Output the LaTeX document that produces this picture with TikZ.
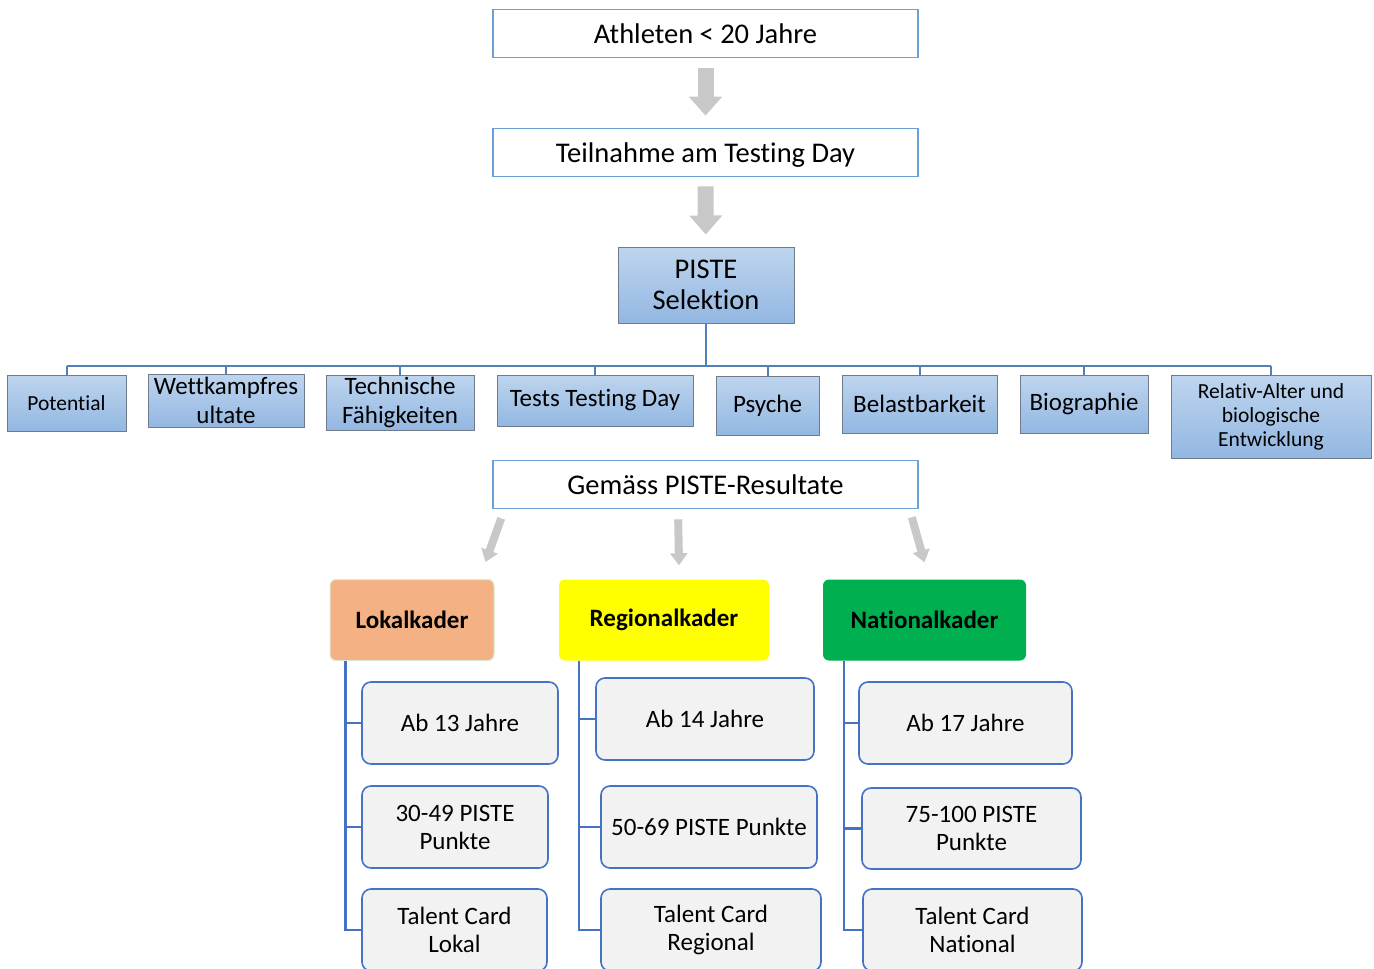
\documentclass[tikz,border=0pt]{standalone}
\usepackage{fontspec}
\setmainfont{Carlito}[Ligatures=NoCommon]
\usepackage{xcolor}
\usetikzlibrary{positioning, arrows.meta, calc}
\definecolor{pisteEdge}{HTML}{6A9FD8}
\definecolor{pisteLine}{HTML}{4F81BD}
\definecolor{pisteTop}{HTML}{BED5EE}
\definecolor{pisteBottom}{HTML}{93B7E2}
\definecolor{pisteFrame}{HTML}{6F7B8B}
\definecolor{kaderLine}{HTML}{4472C4}
\definecolor{kaderCard}{HTML}{F2F2F2}
\definecolor{lokalFill}{HTML}{F4B183}
\definecolor{lokalEdge}{HTML}{DCEBD3}
\definecolor{regioFill}{HTML}{FFFF00}
\definecolor{natioFill}{HTML}{00B050}
\definecolor{arrowGray}{HTML}{C8C8C8}

\begin{document}
\begin{tikzpicture}[
  x=1pt, y=-1pt,
  every node/.style={inner sep=0pt, align=center},
  stagebox/.style={
    rectangle, draw=pisteEdge, line width=1.6pt, fill=white,
    minimum width=425pt, minimum height=48pt,
    font=\fontsize{28.5}{33}\selectfont
  },
  criterion/.style={
    rectangle, draw=pisteFrame, line width=1pt,
    top color=pisteTop, bottom color=pisteBottom,
    font=\fontsize{25}{28.5}\selectfont
  },
  kader/.style={
    rectangle, rounded corners=6pt, fill=#1,
    minimum height=81pt, font=\fontsize{25}{28}\selectfont\bfseries
  },
  card/.style={
    rectangle, rounded corners=9pt, draw=kaderLine, line width=1.6pt,
    fill=kaderCard, minimum height=82pt, font=\fontsize{25}{28}\selectfont
  },
  bus/.style={draw=pisteLine, line width=2pt},
  branch/.style={draw=kaderLine, line width=2.2pt},
  flowarrow/.style={draw=arrowGray, line width=16pt, -{Triangle[width=32pt, length=19pt]}},
  pickarrow/.style={draw=arrowGray, line width=8pt, -{Triangle[width=17pt, length=12pt]}},
]

\useasboundingbox (0,0) rectangle (1374,969);
\clip (0,0) rectangle (1374,969);

% Flow from the top
\node[stagebox] (athl) at (705.5,33.5) {Athleten < 20 Jahre};
\node[stagebox, text depth=0pt] (teil) at (705.5,152.5) {Teilnahme am Testing Day};
\node[criterion, minimum width=176pt, minimum height=76pt,
  font=\fontsize{28.5}{31}\selectfont] (piste) at (706,285) {PISTE\\Selektion};

\draw[flowarrow, shorten <=10pt, shorten >=12pt] (athl) -- (teil);
\draw[flowarrow, shorten <=9pt, shorten >=12pt] (teil) -- (piste);

% Selection criteria
\node[criterion, minimum width=119pt, minimum height=56pt,
  font=\fontsize{21.5}{24}\selectfont] (pot) at (66.5,403) {Potential};
\node[criterion, minimum width=156pt, minimum height=53pt] (wett) at (226,400.5) {Wettkampfres\\ultate};
\node[criterion, minimum width=148pt, minimum height=55pt] (tech) at (400,402.5) {Technische\\Fähigkeiten};
\node[criterion, minimum width=196pt, minimum height=51pt] (tests) at (595,400.5) {Tests Testing Day};
\node[criterion, minimum width=103pt, minimum height=59pt] (psy) at (767.5,405.5) {Psyche};
\node[criterion, minimum width=155pt, minimum height=58pt] (bel) at (919.5,404) {Belastbarkeit};
\node[criterion, minimum width=128pt, minimum height=58pt] (bio) at (1084,404) {Biographie};
\node[criterion, minimum width=200pt, minimum height=83pt,
  font=\fontsize{21.5}{24}\selectfont] (rel) at (1271,416.5) {Relativ-Alter und\\biologische\\Entwicklung};

% Bus to the criteria
\draw[bus] (piste.south) -- ++(0,42) coordinate (hub);
\draw[bus] (pot.north |- hub) -- (rel.north |- hub);
\foreach \crit in {pot,wett,tech,tests,psy,bel,bio,rel}
  \draw[bus] (\crit.north) -- (\crit.north |- hub);

% Result
\node[stagebox] (gem) at (705.5,484.5) {Gemäss PISTE-Resultate};

% Squads
\node[kader=lokalFill, draw=lokalEdge, line width=1pt, minimum width=164pt] (lokal) at (412,620) {Lokalkader};
\node[kader=regioFill, minimum width=210pt] (regio) at (664,620) {Regionalkader};
\node[kader=natioFill, minimum width=203pt] (natio) at (924.5,620) {Nationalkader};

\draw[pickarrow] ([xshift=9pt,yshift=-9pt]gem.south west) -- ([xshift=-9pt,yshift=17pt]lokal.north east);
\draw[pickarrow] ([xshift=186pt,yshift=-10pt]gem.south west) -- ([xshift=15pt,yshift=14pt]regio.north);
\draw[pickarrow] ([xshift=-7pt,yshift=-8pt]gem.south east) -- ([yshift=17pt]natio.north);

% Lokal cards
\node[card, minimum width=196pt] (c13) at (460,723) {Ab 13 Jahre};
\node[card, minimum width=186pt] (c30) at (455,827) {30-49 PISTE\\Punkte};
\node[card, minimum width=185pt] (ctl) at (454.5,930) {Talent Card\\Lokal};

% Regional cards
\node[card, minimum width=218pt] (c14) at (705,719) {Ab 14 Jahre};
\node[card, minimum width=216pt] (c50) at (709,827) {50-69 PISTE Punkte};
\node[card, minimum width=220pt] (ctr) at (711,930) {Talent Card\\Regional};

% National cards
\node[card, minimum width=213pt] (c17) at (965.5,723) {Ab 17 Jahre};
\node[card, minimum width=219pt, minimum height=81pt] (c75) at (971.5,828.5) {75-100 PISTE\\Punkte};
\node[card, minimum width=219pt] (ctn) at (972.5,930) {Talent Card\\National};

% Branches
\coordinate (lspine) at ([xshift=16pt]lokal.south west);
\coordinate (rspine) at ([xshift=20pt]regio.south west);
\coordinate (nspine) at ([xshift=21pt]natio.south west);
\draw[branch] (lspine) |- (ctl.west);
\draw[branch] (rspine) |- (ctr.west);
\draw[branch] (nspine) |- (ctn.west);
\foreach \cardname/\spine in {c13/lspine, c30/lspine, c14/rspine, c50/rspine, c17/nspine, c75/nspine}
  \draw[branch] (\cardname.west) -- (\cardname.west -| \spine);

\end{tikzpicture}
\end{document}
